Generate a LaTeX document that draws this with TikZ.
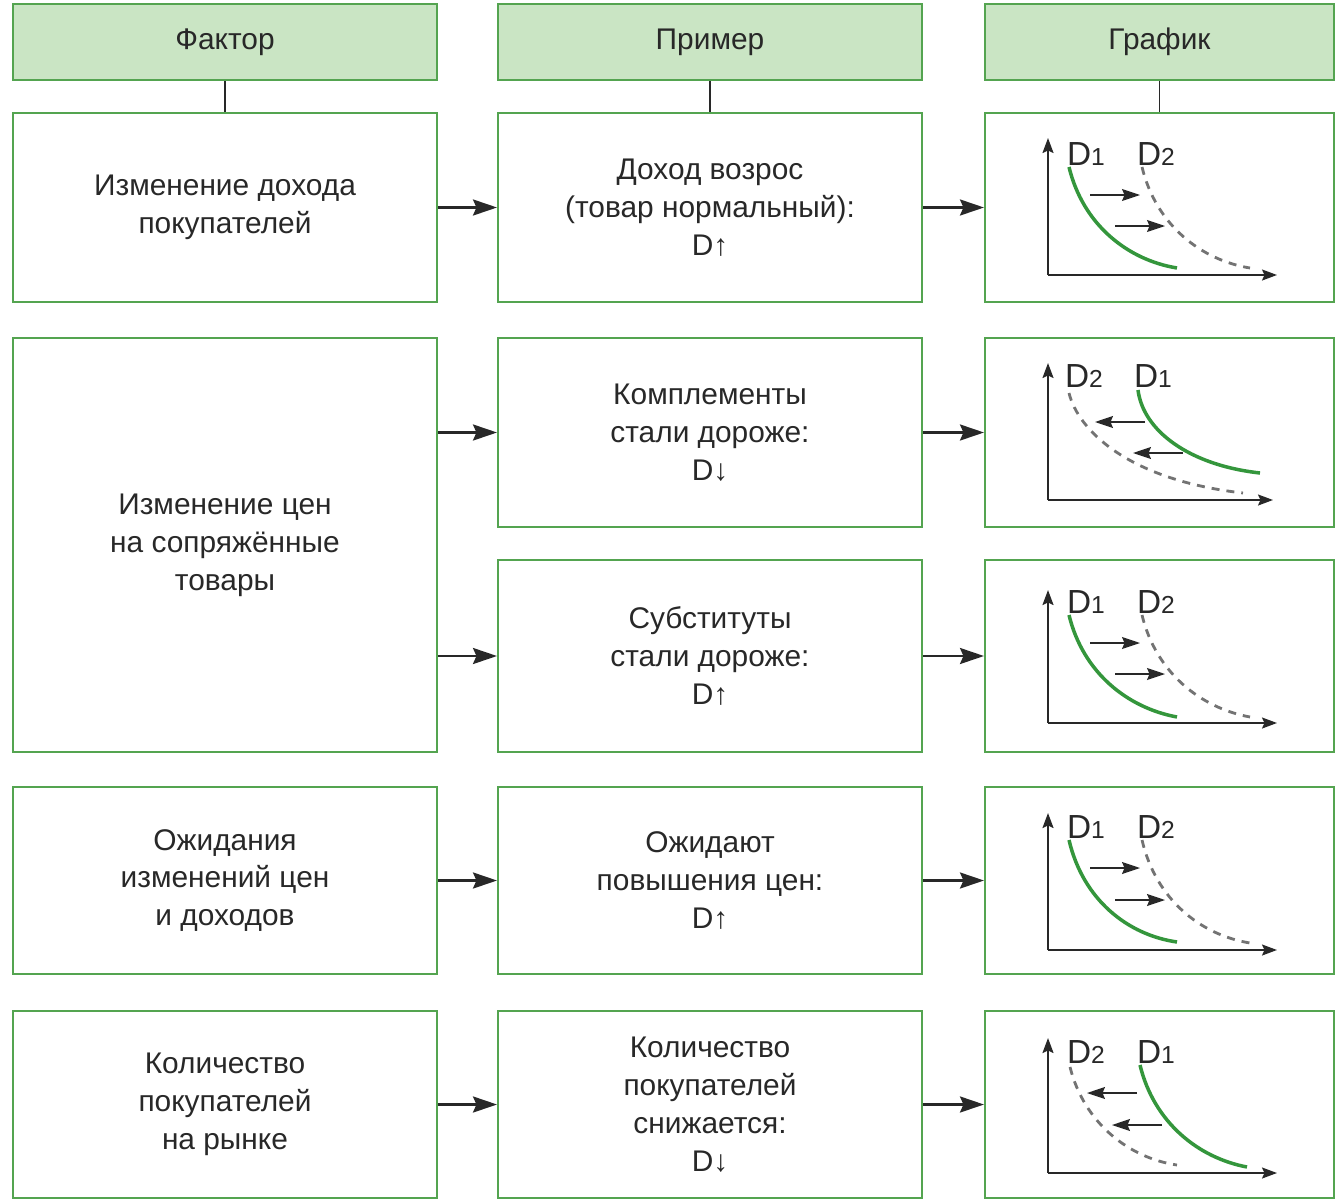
\documentclass[tikz,border=0pt]{standalone}
\usepackage{fontspec}
\setmainfont{Liberation Sans}
\usetikzlibrary{arrows.meta}

\definecolor{boxgreen}{RGB}{84,164,80}
\definecolor{headfill}{RGB}{202,229,196}
\definecolor{curvegreen}{RGB}{52,150,60}
\definecolor{inkgray}{RGB}{40,40,40}
\definecolor{dashgray}{RGB}{115,115,115}

\newcommand{\lowidx}[1]{{\fontsize{14}{14}\selectfont #1}}

\tikzset{
  box/.style={draw=boxgreen, line width=1.2pt, align=center, text=inkgray,
    font=\fontsize{17}{21.6}\selectfont, inner sep=0pt},
  head/.style={box, fill=headfill, minimum height=1.52cm},
  link/.style={draw=inkgray, line width=1.5pt,
    -{Stealth[length=0.48cm,width=0.32cm,inset=0.07cm]}},
  stem/.style={draw=inkgray, line width=0.9pt},
  axis/.style={draw=inkgray, line width=1pt,
    -{Stealth[length=0.3cm,width=0.22cm,inset=0.05cm]}},
  demand/.style={draw=curvegreen, line width=2pt},
  newdemand/.style={draw=dashgray, line width=1.6pt, dash pattern=on 0.16cm off 0.14cm},
  slide/.style={draw=inkgray, line width=0.8pt,
    -{Stealth[length=0.36cm,width=0.24cm,inset=0.05cm]}},
  dlabel/.style={text=inkgray, font=\fontsize{19}{19}\selectfont, inner sep=0pt}
}

\begin{document}
\begin{tikzpicture}[x=0.02cm, y=-0.02cm]
  \useasboundingbox (0,0) rectangle (1342,1200);

  % headers
  \node[head, minimum width=8.48cm] (hf) at (225,42) {Фактор};
  \node[head, minimum width=8.48cm] (hp) at (710,42) {Пример};
  \node[head, minimum width=6.98cm] (hg) at (1159.5,42) {График};

  % factors
  \node[box, minimum width=8.48cm, minimum height=3.78cm] (f1) at (225,207.5) {Изменение дохода\\покупателей};
  \node[box, minimum width=8.48cm, minimum height=8.28cm] (f2) at (225,545) {Изменение цен\\на сопряжённые\\товары};
  \node[box, minimum width=8.48cm, minimum height=3.74cm] (f4) at (225,880.5) {Ожидания\\изменений цен\\и доходов};
  \node[box, minimum width=8.48cm, minimum height=3.74cm] (f5) at (225,1104.5) {Количество\\покупателей\\на рынке};

  % examples
  \node[box, minimum width=8.48cm, minimum height=3.78cm] (p1) at (710,207.5) {Доход возрос\\(товар нормальный):\\D↑};
  \node[box, minimum width=8.48cm, minimum height=3.78cm] (p2) at (710,432.5) {Комплементы\\стали дороже:\\D↓};
  \node[box, minimum width=8.48cm, minimum height=3.84cm] (p3) at (710,656) {Субституты\\стали дороже:\\D↑};
  \node[box, minimum width=8.48cm, minimum height=3.74cm] (p4) at (710,880.5) {Ожидают\\повышения цен:\\D↑};
  \node[box, minimum width=8.48cm, minimum height=3.74cm] (p5) at (710,1104.5) {Количество\\покупателей\\снижается:\\D↓};

  % graph frames
  \node[box, minimum width=6.98cm, minimum height=3.78cm] (g1) at (1159.5,207.5) {};
  \node[box, minimum width=6.98cm, minimum height=3.78cm] (g2) at (1159.5,432.5) {};
  \node[box, minimum width=6.98cm, minimum height=3.84cm] (g3) at (1159.5,656) {};
  \node[box, minimum width=6.98cm, minimum height=3.74cm] (g4) at (1159.5,880.5) {};
  \node[box, minimum width=6.98cm, minimum height=3.74cm] (g5) at (1159.5,1104.5) {};

  \draw[stem] (hf.south) -- (f1.north);
  \draw[stem] (hp.south) -- (p1.north);
  \draw[stem] (hg.south) -- (g1.north);

  \draw[link] (f1) -- (p1);
  \draw[link] (f2.east |- p2.west) -- (p2.west);
  \draw[link] (f2.east |- p3.west) -- (p3.west);
  \draw[link] (f4) -- (p4);
  \draw[link] (f5) -- (p5);
  \draw[link] (p1) -- (g1);
  \draw[link] (p2) -- (g2);
  \draw[link] (p3) -- (g3);
  \draw[link] (p4) -- (g4);
  \draw[link] (p5) -- (g5);

  % D shifts right
  \begin{scope}[shift={(1048,275)}]
    \draw[axis] (0,0) -- (0,-137);
    \draw[axis] (0,0) -- (229,0);
    \draw[demand] (21,-108) .. controls (35,-50) and (80,-15) .. (129,-7);
    \draw[newdemand] (94,-108) .. controls (108,-50) and (153,-15) .. (202,-7);
    \draw[slide] (42,-80) -- (92,-80);
    \draw[slide] (67,-49) -- (117,-49);
    \node[dlabel] (l1a) at (38,-121) {D\lowidx{1}};
    \node[dlabel] (l1b) at (108,-121) {D\lowidx{2}};
  \end{scope}

  % D shifts left
  \begin{scope}[shift={(1048,500)}]
    \draw[axis] (0,0) -- (0,-137);
    \draw[axis] (0,0) -- (225,0);
    \draw[demand] (90,-110) .. controls (95,-70) and (140,-35) .. (212,-27);
    \draw[newdemand] (21,-107) .. controls (30,-70) and (80,-20) .. (195,-7);
    \draw[slide] (97,-78) -- (47,-78);
    \draw[slide] (135,-47) -- (85,-47);
    \node[dlabel] (l2a) at (36,-124) {D\lowidx{2}};
    \node[dlabel] (l2b) at (105,-124) {D\lowidx{1}};
  \end{scope}

  \begin{scope}[shift={(1048,723)}]
    \draw[axis] (0,0) -- (0,-133);
    \draw[axis] (0,0) -- (229,0);
    \draw[demand] (21,-108) .. controls (35,-50) and (80,-15) .. (129,-6);
    \draw[newdemand] (94,-108) .. controls (108,-50) and (153,-15) .. (202,-6);
    \draw[slide] (42,-80) -- (92,-80);
    \draw[slide] (67,-49) -- (117,-49);
    \node[dlabel] (l3a) at (38,-121) {D\lowidx{1}};
    \node[dlabel] (l3b) at (108,-121) {D\lowidx{2}};
  \end{scope}

  \begin{scope}[shift={(1048,950)}]
    \draw[axis] (0,0) -- (0,-137);
    \draw[axis] (0,0) -- (229,0);
    \draw[demand] (21,-110) .. controls (35,-50) and (80,-15) .. (129,-8);
    \draw[newdemand] (94,-110) .. controls (108,-50) and (153,-15) .. (202,-7);
    \draw[slide] (42,-82) -- (92,-82);
    \draw[slide] (67,-50) -- (117,-50);
    \node[dlabel] (l4a) at (38,-123) {D\lowidx{1}};
    \node[dlabel] (l4b) at (108,-123) {D\lowidx{2}};
  \end{scope}

  \begin{scope}[shift={(1048,1173)}]
    \draw[axis] (0,0) -- (0,-135);
    \draw[axis] (0,0) -- (229,0);
    \draw[demand] (92,-108) .. controls (106,-50) and (151,-15) .. (199,-6);
    \draw[newdemand] (22,-106) .. controls (36,-50) and (81,-15) .. (129,-8);
    \draw[slide] (89,-80) -- (39,-80);
    \draw[slide] (114,-48) -- (64,-48);
    \node[dlabel] (l5a) at (38,-121) {D\lowidx{2}};
    \node[dlabel] (l5b) at (108,-121) {D\lowidx{1}};
  \end{scope}
\end{tikzpicture}
\end{document}
